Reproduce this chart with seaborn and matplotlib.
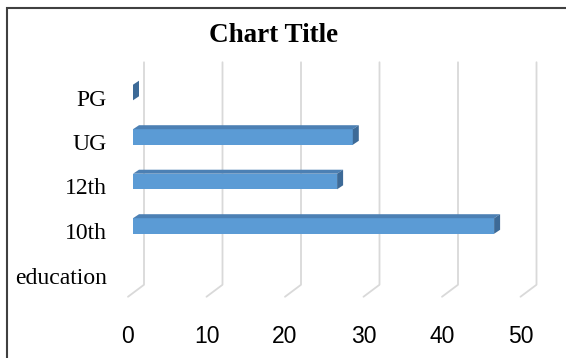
import matplotlib
matplotlib.use("Agg")
import matplotlib.pyplot as plt
from matplotlib.patches import Polygon, Rectangle
from matplotlib.lines import Line2D
from matplotlib.transforms import ScaledTranslation
import pandas as pd
import seaborn as sns

# Category axis (top to bottom) and the values of the bars
categories = ["PG", "UG", "12th", "10th", "education"]
bar_labels = ["PG", "UG", "12th", "10th"]
bar_values = [0, 28, 26, 46]
x_ticks = [0, 10, 20, 30, 40, 50]
title = "Chart Title"

DPI = 100
W, H = 566, 358

FRONT = "#5b9bd5"
TOP = "#4c80b4"
SIDE = "#3d6a97"
GRID = "#d9d9d9"

sns.set_style("white")
fig = plt.figure(figsize=(W / DPI, H / DPI), dpi=DPI)
fig.patch.set_facecolor("white")

# front plane of the bars, in pixels
left_px, right_px = 133, 525.5
top_px, bottom_px = 70.25, 292.75
ax = fig.add_axes([left_px / W, 1 - bottom_px / H,
                   (right_px - left_px) / W, (bottom_px - top_px) / H])

df = pd.DataFrame({"level": bar_labels, "count": bar_values})
sns.barplot(data=df, x="count", y="level", order=categories, orient="h",
            color=FRONT, width=0.35, errorbar=None, linewidth=0,
            saturation=1, ax=ax, zorder=3)

ax.set_xlim(x_ticks[0], x_ticks[-1])
ax.set_ylim(len(categories) - 0.5, -0.5)
ax.set_axis_off()


def shift(x, y, dx, dy):
    """Move a data point by (dx, dy) pixels, dy measured downward."""
    X, Y = ax.transData.transform((x, y))
    return ax.transData.inverted().transform((X + dx, Y - dy))


# perspective offsets (pixels) of the back wall, the floor edge and bar depth
BACK = (11, -8)
FLOOR = (-5, 4)
DEPTH = (6, -4)
y_lo, y_hi = len(categories) - 0.5, -0.5

# back-wall gridlines with their floor diagonals
for v in x_ticks:
    b_top = shift(v, y_hi, *BACK)
    b_bot = shift(v, y_lo, *BACK)
    f_bot = shift(v, y_lo, *FLOOR)
    ax.add_line(Line2D([b_top[0], b_bot[0], f_bot[0]],
                       [b_top[1], b_bot[1], f_bot[1]],
                       color=GRID, lw=1.3, zorder=1, clip_on=False))

# top and side faces of each bar
for patch in ax.patches[:]:
    x0 = patch.get_x()
    x1 = x0 + patch.get_width()
    y_top = patch.get_y()
    y_bot = y_top + patch.get_height()
    top_face = [(x0, y_top), (x1, y_top),
                tuple(shift(x1, y_top, *DEPTH)), tuple(shift(x0, y_top, *DEPTH))]
    side_face = [(x1, y_top), (x1, y_bot),
                 tuple(shift(x1, y_bot, *DEPTH)), tuple(shift(x1, y_top, *DEPTH))]
    ax.add_patch(Polygon(top_face, closed=True, facecolor=TOP,
                         edgecolor="none", zorder=3, clip_on=False))
    ax.add_patch(Polygon(side_face, closed=True, facecolor=SIDE,
                         edgecolor="none", zorder=3, clip_on=False))

# category labels along the floor edge
cat_off = ax.transData + ScaledTranslation(-26 / DPI, -13 / DPI, fig.dpi_scale_trans)
for i, cat in enumerate(categories):
    ax.text(0, i, cat, transform=cat_off, ha="right", va="baseline",
            fontsize=17, family=["Liberation Serif", "DejaVu Serif"],
            color="#000000", clip_on=False)

# value labels below the floor
val_off = ax.transData + ScaledTranslation(FLOOR[0] / DPI, -50 / DPI, fig.dpi_scale_trans)
for v in x_ticks:
    ax.text(v, y_lo, str(v), transform=val_off, ha="center", va="baseline",
            fontsize=16.5, family=["Liberation Sans", "DejaVu Sans"],
            color="#000000", clip_on=False)

fig.text(274 / W, 1 - 42 / H, title, ha="center", va="baseline",
         fontsize=19.5, fontweight="bold",
         family=["Liberation Serif", "DejaVu Serif"], color="#000000")

# chart-area outline
fig.add_artist(Rectangle((6.5 / W, -0.5), 1.2, 1.5 - 7.5 / H,
                         transform=fig.transFigure, fill=False,
                         edgecolor="#404040", lw=1.5, zorder=10))

fig.savefig("out.png", dpi=DPI, facecolor="white")
